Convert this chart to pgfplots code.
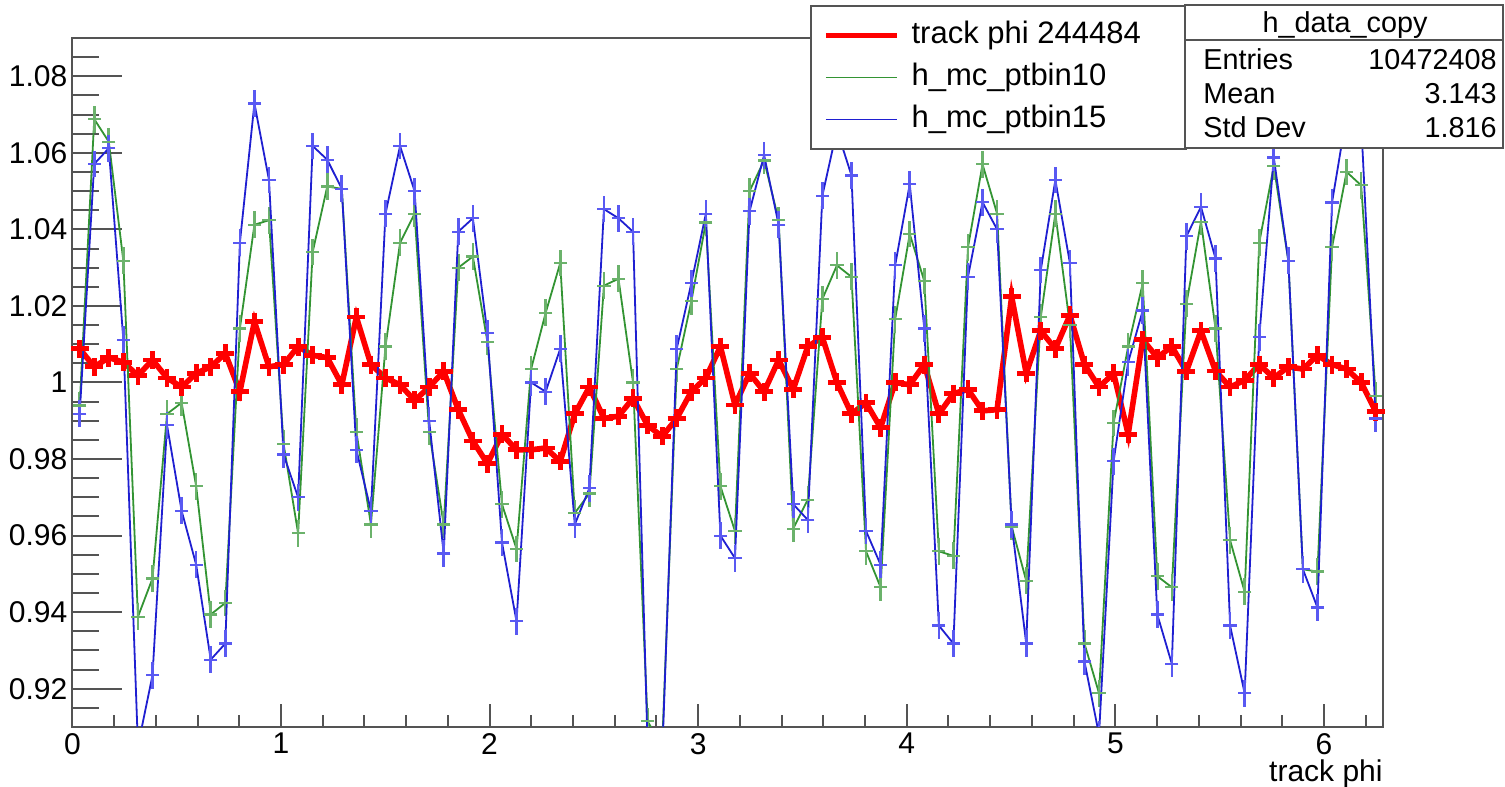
\documentclass[border=0pt]{standalone}
\usepackage{fontspec}
\setmainfont{Liberation Sans}
\usepackage{pgfplots}
\usepackage{pgfplotstable}
\pgfplotsset{compat=1.18}
\definecolor{rootred}{rgb}{1,0,0}
\definecolor{rootgreen}{rgb}{0.2,0.58,0.2}
\definecolor{rootgreenerr}{rgb}{0.42,0.7,0.42}
\definecolor{rootblue}{rgb}{0.12,0.12,0.82}
\definecolor{rootblueerr}{rgb}{0.35,0.35,0.95}
\definecolor{framegray}{rgb}{0.33,0.33,0.33}
\pgfplotstableread{
x d g b
0.0349 1.0088 0.9940 0.9918
0.1047 1.0041 1.0688 1.0571
0.1745 1.0065 1.0629 1.0612
0.2443 1.0053 1.0318 1.0112
0.3142 1.0018 0.9388 0.9050
0.3840 1.0059 0.9488 0.9235
0.4538 1.0012 0.9918 0.9888
0.5236 0.9988 0.9947 0.9665
0.5934 1.0024 0.9729 0.9524
0.6632 1.0041 0.9394 0.9276
0.7330 1.0076 0.9424 0.9318
0.8029 0.9976 1.0141 1.0365
0.8727 1.0159 1.0412 1.0729
0.9425 1.0041 1.0424 1.0529
1.0123 1.0047 0.9840 0.9812
1.0821 1.0094 0.9606 0.9700
1.1519 1.0071 1.0341 1.0618
1.2217 1.0065 1.0512 1.0582
1.2915 0.9994 1.0506 1.0506
1.3614 1.0171 0.9871 0.9824
1.4312 1.0047 0.9629 0.9665
1.5010 1.0012 1.0094 1.0441
1.5708 0.9994 1.0365 1.0618
1.6406 0.9953 1.0441 1.0500
1.7104 0.9988 0.9871 0.9900
1.7802 1.0029 0.9629 0.9553
1.8500 0.9929 1.0300 1.0394
1.9199 0.9847 1.0329 1.0429
1.9897 0.9788 1.0106 1.0129
2.0595 0.9865 0.9682 0.9582
2.1293 0.9824 0.9565 0.9376
2.1991 0.9824 1.0035 1.0000
2.2689 0.9829 1.0182 0.9976
2.3387 0.9794 1.0312 1.0088
2.4086 0.9918 0.9659 0.9629
2.4784 0.9988 0.9710 0.9724
2.5482 0.9906 1.0253 1.0453
2.6180 0.9912 1.0271 1.0429
2.6878 0.9959 1.0000 1.0394
2.7576 0.9888 0.9115 0.9050
2.8274 0.9859 0.9050 0.9020
2.8972 0.9906 1.0035 1.0088
2.9671 0.9976 1.0212 1.0259
3.0369 1.0012 1.0418 1.0441
3.1067 1.0094 0.9729 0.9600
3.1765 0.9941 0.9612 0.9541
3.2463 1.0024 1.0500 1.0447
3.3161 0.9976 1.0580 1.0594
3.3859 1.0059 1.0424 1.0412
3.4558 0.9982 0.9618 0.9682
3.5256 1.0094 0.9694 0.9641
3.5954 1.0118 1.0218 1.0488
3.6652 1.0000 1.0306 1.0660
3.7350 0.9918 1.0276 1.0541
3.8048 0.9947 0.9559 0.9612
3.8746 0.9882 0.9465 0.9524
3.9444 1.0000 1.0165 1.0306
4.0143 0.9994 1.0388 1.0518
4.0841 1.0047 1.0265 1.0141
4.1539 0.9918 0.9559 0.9365
4.2237 0.9971 0.9547 0.9318
4.2935 0.9982 1.0353 1.0276
4.3633 0.9926 1.0570 1.0471
4.4331 0.9929 1.0441 1.0400
4.5029 1.0224 0.9624 0.9629
4.5728 1.0024 0.9482 0.9318
4.6426 1.0135 1.0171 1.0294
4.7124 1.0088 1.0441 1.0529
4.7822 1.0176 1.0150 1.0312
4.8520 1.0047 0.9318 0.9271
4.9218 0.9988 0.9188 0.9080
4.9916 1.0024 0.9894 0.9794
5.0615 0.9865 1.0094 1.0053
5.1313 1.0112 1.0259 1.0188
5.2011 1.0065 0.9494 0.9394
5.2709 1.0094 0.9465 0.9265
5.3407 1.0029 1.0206 1.0382
5.4105 1.0135 1.0420 1.0459
5.4803 1.0030 1.0141 1.0324
5.5501 0.9988 0.9588 0.9365
5.6200 1.0006 0.9453 0.9188
5.6898 1.0047 1.0365 1.0118
5.7596 1.0012 1.0565 1.0588
5.8294 1.0041 1.0318 1.0318
5.8992 1.0035 0.9512 0.9512
5.9690 1.0071 0.9506 0.9412
6.0388 1.0047 1.0353 1.0470
6.1087 1.0035 1.0550 1.0700
6.1785 1.0000 1.0515 1.0680
6.2483 0.9924 0.9965 0.9906
}\phidata
\begin{document}
\begin{tikzpicture}
\path[use as bounding box] (0pt,0pt) rectangle (752.5pt,393.5pt);
\begin{axis}[
  at={(36.2pt,30pt)}, anchor=south west,
  scale only axis, width=655.3pt, height=344.5pt,
  xmin=0, xmax=6.2832, ymin=0.91, ymax=1.09,
  axis line style={draw=framegray, line width=1pt},
  tick pos=left, tick align=inside,
  xtick={0,1,2,3,4,5,6},
  xticklabels={0,1,2,3,4,5,6},
  minor xtick={0.2,0.4,0.6,0.8,1.2,1.4,1.6,1.8,2.2,2.4,2.6,2.8,3.2,3.4,3.6,3.8,4.2,4.4,4.6,4.8,5.2,5.4,5.6,5.8,6.2},
  ytick={0.92,0.94,0.96,0.98,1,1.02,1.04,1.06,1.08},
  yticklabels={0.92,0.94,0.96,0.98,1,1.02,1.04,1.06,1.08},
  minor ytick={0.91,0.915,0.925,0.93,0.935,0.945,0.95,0.955,0.965,0.97,0.975,0.985,0.99,0.995,1.005,1.01,1.015,1.025,1.03,1.035,1.045,1.05,1.055,1.065,1.07,1.075,1.085,1.09},
  xtick style={/pgfplots/major tick length=11.5pt, draw=framegray, line width=1pt},
  ytick style={/pgfplots/major tick length=25pt, draw=framegray, line width=1pt},
  minor x tick style={/pgfplots/minor tick length=6pt},
  minor y tick style={/pgfplots/minor tick length=13.5pt},
  ticklabel style={font=\fontsize{15}{17}\selectfont, text=black},
  xticklabel style={yshift=0.5pt},
  yticklabel style={xshift=1pt},
  /pgf/number format/assume math mode=true,
  legend cell align=left,
  legend image code/.code={\draw[#1] (0pt,0pt) -- (35.5pt,0pt);},
  legend style={at={(0.5628,1.0479)}, anchor=north west,
    draw=framegray, line width=1pt, fill=white,
    font=\fontsize{15.5}{18}\selectfont,
    inner xsep=6pt, inner ysep=5.8pt, row sep=3pt,
    nodes={inner xsep=0pt, inner ysep=0pt, text height=13pt, text depth=5pt},
    /tikz/every odd column/.append style={column sep=6pt}},
]
\addplot[draw=rootred, line width=2.8pt, mark=+, mark size=4.5pt,
  mark options={line width=2.4pt, draw=rootred}]
  table[x=x, y=d] {\phidata};
\addlegendentry{\makebox[131pt][l]{track phi 244484}}
\addplot[draw=rootgreen, line width=0.9pt, mark=-, mark size=3.3pt,
  mark options={line width=1.1pt, draw=rootgreenerr},
  error bars/.cd, y dir=both, y fixed=0.0035,
  error mark=none, error bar style={draw=rootgreenerr, line width=1.3pt}]
  table[x=x, y=g] {\phidata};
\addlegendentry{\makebox[131pt][l]{h\_mc\_ptbin10}}
\addplot[draw=rootblue, line width=0.9pt, mark=-, mark size=3.3pt,
  mark options={line width=1.1pt, draw=rootblueerr},
  error bars/.cd, y dir=both, y fixed=0.0035,
  error mark=none, error bar style={draw=rootblueerr, line width=1.3pt}]
  table[x=x, y=b] {\phidata};
\addlegendentry{\makebox[131pt][l]{h\_mc\_ptbin15}}
\end{axis}
\draw[draw=framegray, line width=1pt, fill=white] (592.5pt,319.5pt) rectangle (751.5pt,391pt);
\draw[draw=framegray, line width=1pt] (592.5pt,373.5pt) -- (751.5pt,373.5pt);
\begin{scope}[every node/.style={font=\fontsize{14.4}{17}\selectfont, inner sep=0pt}]
\node[anchor=base] at (672.5pt,377pt) {h\_data\_copy};
\node[anchor=base west] at (601.5pt,358.5pt) {Entries};
\node[anchor=base west] at (601.5pt,341.5pt) {Mean};
\node[anchor=base west] at (601.5pt,324.5pt) {Std Dev};
\node[anchor=base east] at (748.5pt,358.5pt) {10472408};
\node[anchor=base east] at (748.5pt,341.5pt) {3.143};
\node[anchor=base east] at (748.5pt,324.5pt) {1.816};
\end{scope}
\node[anchor=base east, inner sep=0pt, font=\fontsize{15}{18}\selectfont] at (691.5pt,2.6pt) {track phi};
\end{tikzpicture}
\end{document}
